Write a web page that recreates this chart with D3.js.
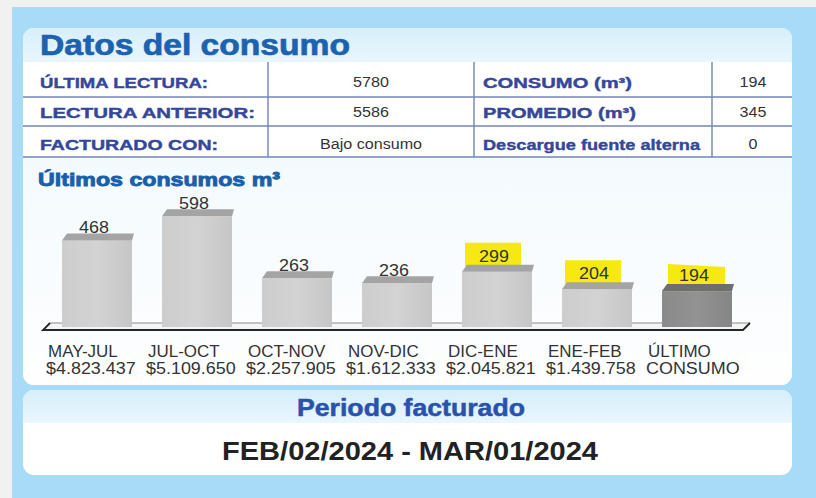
<!DOCTYPE html>
<html>
<head>
<meta charset="utf-8">
<script src="https://cdn.jsdelivr.net/npm/d3@7"></script>
<style>
  html, body { margin: 0; padding: 0; background: #f1f1f1; }
  svg { display: block; }
  text { font-family: "Liberation Sans", Arial, sans-serif; }
</style>
</head>
<body>
<svg id="chart" width="816" height="498"></svg>
<script>
// ---------------- DATA ----------------
const title = "Datos del consumo";
const tableLeftLabels = ["ÚLTIMA LECTURA:", "LECTURA ANTERIOR:", "FACTURADO CON:"];
const tableLeftValues = ["5780", "5586", "Bajo consumo"];
const tableRightLabels = ["CONSUMO (m³)", "PROMEDIO (m³)", "Descargue fuente alterna"];
const tableRightValues = ["194", "345", "0"];
const chartTitle = "Últimos consumos m³";
const categories = ["MAY-JUL", "JUL-OCT", "OCT-NOV", "NOV-DIC", "DIC-ENE", "ENE-FEB", "ÚLTIMO"];
const categoryLine2 = ["$4.823.437", "$5.109.650", "$2.257.905", "$1.612.333", "$2.045.821", "$1.439.758", "CONSUMO"];
const consumos = [468, 598, 263, 236, 299, 204, 194];
const highlighted = [false, false, false, false, true, true, true];
const periodTitle = "Periodo facturado";
const periodText = "FEB/02/2024 - MAR/01/2024";

// ---------------- HELPERS ----------------
const svg = d3.select("#chart");
function fitWidth(sel, w) {
  sel.attr("textLength", w).attr("lengthAdjust", "spacingAndGlyphs");
}
function stretch(sel, k) {
  sel.each(function () {
    const l = this.getComputedTextLength();
    d3.select(this).attr("textLength", l * k).attr("lengthAdjust", "spacingAndGlyphs");
  });
}

const defs = svg.append("defs");
const gTop = defs.append("linearGradient").attr("id", "gTop").attr("x1", 0).attr("y1", 0).attr("x2", 0).attr("y2", 1);
gTop.append("stop").attr("offset", "0%").attr("stop-color", "#d6effb");
gTop.append("stop").attr("offset", "100%").attr("stop-color", "#e9f6fd");
const gChart = defs.append("linearGradient").attr("id", "gChart").attr("x1", 0).attr("y1", 0).attr("x2", 0).attr("y2", 1);
gChart.append("stop").attr("offset", "0%").attr("stop-color", "#f3fafe");
gChart.append("stop").attr("offset", "100%").attr("stop-color", "#fefefe");
const gBar = defs.append("linearGradient").attr("id", "gBar").attr("x1", 0).attr("y1", 0).attr("x2", 1).attr("y2", 0);
gBar.append("stop").attr("offset", "0%").attr("stop-color", "#cdcdcd");
gBar.append("stop").attr("offset", "50%").attr("stop-color", "#d3d3d3");
gBar.append("stop").attr("offset", "100%").attr("stop-color", "#c6c6c6");
const gBarDark = defs.append("linearGradient").attr("id", "gBarDark").attr("x1", 0).attr("y1", 0).attr("x2", 1).attr("y2", 0);
gBarDark.append("stop").attr("offset", "0%").attr("stop-color", "#8a8a8a");
gBarDark.append("stop").attr("offset", "50%").attr("stop-color", "#929292");
gBarDark.append("stop").attr("offset", "100%").attr("stop-color", "#858585");

// ---------------- BACKGROUND PANELS ----------------
svg.append("rect").attr("x", 12).attr("y", 7).attr("width", 804).attr("height", 491).attr("fill", "#a8dcf6");

// main card
const cardX = 23, cardW = 769;
const clip = defs.append("clipPath").attr("id", "cardClip");
clip.append("rect").attr("x", cardX).attr("y", 28).attr("width", cardW).attr("height", 357).attr("rx", 11);
svg.append("rect").attr("x", cardX).attr("y", 28).attr("width", cardW).attr("height", 357).attr("rx", 11).attr("fill", "#fdfefe");
const card = svg.append("g").attr("clip-path", "url(#cardClip)");
card.append("rect").attr("x", cardX).attr("y", 28).attr("width", cardW).attr("height", 34).attr("fill", "url(#gTop)");
card.append("rect").attr("x", cardX).attr("y", 62).attr("width", cardW).attr("height", 95).attr("fill", "#ffffff");
card.append("rect").attr("x", cardX).attr("y", 158).attr("width", cardW).attr("height", 227).attr("fill", "url(#gChart)");

// Title
svg.append("text").attr("x", 40).attr("y", 55).attr("font-size", 30).attr("font-weight", "bold")
  .attr("fill", "#1d62ae").attr("stroke", "#1d62ae").attr("stroke-width", 0.7)
  .text(title).call(fitWidth, 310);

// ---------------- TABLE ----------------
const rowLines = [97, 126, 157];
const rowBase = [88, 118, 150];
const tableTop = 62;
const colLines = [268, 474, 712];
const lineColor = "#6f86b6";
rowLines.forEach(y => {
  svg.append("line").attr("x1", cardX).attr("x2", cardX + cardW).attr("y1", y).attr("y2", y)
    .attr("stroke", lineColor).attr("stroke-width", 1.6);
});
colLines.forEach(x => {
  svg.append("line").attr("x1", x).attr("x2", x).attr("y1", tableTop).attr("y2", 157)
    .attr("stroke", lineColor).attr("stroke-width", 1.4);
});
const leftLabelW = [168, 215, 178];
const rightLabelW = [149, 153, 217];
tableLeftLabels.forEach((t, i) => {
  svg.append("text").attr("x", 40).attr("y", rowBase[i]).attr("font-size", 15).attr("font-weight", "bold")
    .attr("fill", "#34479a").attr("stroke", "#34479a").attr("stroke-width", 0.4)
    .text(t).call(fitWidth, leftLabelW[i]);
});
tableRightLabels.forEach((t, i) => {
  svg.append("text").attr("x", 483).attr("y", rowBase[i]).attr("font-size", 15).attr("font-weight", "bold")
    .attr("fill", "#34479a").attr("stroke", "#34479a").attr("stroke-width", 0.4)
    .text(t).call(fitWidth, rightLabelW[i]);
});
tableLeftValues.forEach((t, i) => {
  svg.append("text").attr("x", 371).attr("y", rowBase[i] - 1).attr("font-size", 14).attr("text-anchor", "middle")
    .attr("fill", "#333").text(t).call(stretch, 1.15);
});
tableRightValues.forEach((t, i) => {
  svg.append("text").attr("x", 753).attr("y", rowBase[i] - 1).attr("font-size", 14).attr("text-anchor", "middle")
    .attr("fill", "#333").text(t).call(stretch, 1.15);
});

// chart title
svg.append("text").attr("x", 38).attr("y", 186).attr("font-size", 19).attr("font-weight", "bold")
  .attr("fill", "#1a5fa9").attr("stroke", "#1a5fa9").attr("stroke-width", 0.9)
  .text(chartTitle).call(fitWidth, 242);

// ---------------- BAR CHART ----------------
const x = d3.scaleBand().domain(categories).range([47, 747]).paddingInner(0.3).paddingOuter(0.15);
const y = d3.scaleLinear().domain([0, 600]).range([327, 216]);
const bw = x.bandwidth();
const dx = 5, dy = 7;

// floor
const floorY0 = 323, floorY1 = 330;
svg.append("path")
  .attr("d", `M${x.range()[0] + 3},${floorY0} L${x.range()[1] + 3},${floorY0} L${x.range()[1] - 4},${floorY1} L${x.range()[0] - 4},${floorY1} Z`)
  .attr("fill", "#f4f4f4").attr("stroke", "none");
svg.append("line").attr("x1", x.range()[0] + 3).attr("x2", x.range()[1] + 3).attr("y1", floorY0).attr("y2", floorY0)
  .attr("stroke", "#8a8a8a").attr("stroke-width", 1);
svg.append("path")
  .attr("d", `M${x.range()[0] + 3},${floorY0} L${x.range()[0] - 4},${floorY1} L${x.range()[1] - 4},${floorY1} L${x.range()[1] + 3},${floorY0}`)
  .attr("fill", "none").attr("stroke", "#262626").attr("stroke-width", 1.8);

const data = categories.map((c, i) => ({ c, v: consumos[i], l2: categoryLine2[i], hi: highlighted[i], last: i === categories.length - 1 }));

// yellow highlight boxes (behind bars)
svg.selectAll(".hibox").data(data.filter(d => d.hi)).enter().append("path")
  .attr("class", "hibox")
  .attr("d", d => {
    const cx = x(d.c) + bw / 2, yt = y(d.v);
    const l = cx - 32, r = cx + 24;
    if (d.last) return `M${l + 3},${yt - 27} L${r + 4},${yt - 24} L${r + 4},${yt + 1} L${l + 3},${yt + 1} Z`;
    return `M${l},${yt - 29} L${r},${yt - 29} L${r},${yt - 2} L${l},${yt - 2} Z`;
  })
  .attr("fill", "#f6e912");

// bars
const bars = svg.selectAll(".bar").data(data).enter().append("g").attr("class", "bar");
bars.append("rect")
  .attr("x", d => x(d.c)).attr("y", d => y(d.v))
  .attr("width", bw).attr("height", d => y(0) - y(d.v))
  .attr("fill", d => d.last ? "url(#gBarDark)" : "url(#gBar)");
bars.append("path")
  .attr("d", d => {
    const x0 = x(d.c), x1 = x0 + bw, yt = y(d.v);
    return `M${x0},${yt} L${x0 + dx},${yt - dy} L${x1 + 2},${yt - dy} L${x1},${yt} Z`;
  })
  .attr("fill", d => d.last ? "#6e6e6e" : "#a4a4a4");

// value labels
svg.selectAll(".val").data(data).enter().append("text")
  .attr("class", "val")
  .attr("x", d => x(d.c) + bw / 2 - 3)
  .attr("y", d => y(d.v) - (d.hi ? 10 : 7))
  .attr("text-anchor", "middle").attr("font-size", 16).attr("fill", "#333")
  .text(d => d.v).call(stretch, 1.12);

// category labels
svg.selectAll(".cat1").data(data).enter().append("text")
  .attr("class", "cat1")
  .attr("x", d => x(d.c) - 14).attr("y", 357)
  .attr("font-size", 16).attr("fill", "#333")
  .text(d => d.c).call(stretch, 1.06);
svg.selectAll(".cat2").data(data).enter().append("text")
  .attr("class", "cat2")
  .attr("x", d => x(d.c) - 16).attr("y", 374)
  .attr("font-size", 16).attr("fill", "#333")
  .text(d => d.l2).call(stretch, 1.12);

// ---------------- PERIOD CARD ----------------
const clip2 = defs.append("clipPath").attr("id", "cardClip2");
clip2.append("rect").attr("x", cardX).attr("y", 390).attr("width", cardW).attr("height", 85).attr("rx", 11);
svg.append("rect").attr("x", cardX).attr("y", 390).attr("width", cardW).attr("height", 85).attr("rx", 11).attr("fill", "#ffffff");
const card2 = svg.append("g").attr("clip-path", "url(#cardClip2)");
card2.append("rect").attr("x", cardX).attr("y", 390).attr("width", cardW).attr("height", 33).attr("fill", "url(#gTop)");

svg.append("text").attr("x", 411).attr("y", 416).attr("text-anchor", "middle").attr("font-size", 23)
  .attr("font-weight", "bold").attr("fill", "#2a52ad").attr("stroke", "#2a52ad").attr("stroke-width", 0.5)
  .text(periodTitle).call(fitWidth, 228);
svg.append("text").attr("x", 410).attr("y", 460).attr("text-anchor", "middle").attr("font-size", 25)
  .attr("font-weight", "bold").attr("fill", "#222").text(periodText).call(fitWidth, 376);
</script>
</body>
</html>
